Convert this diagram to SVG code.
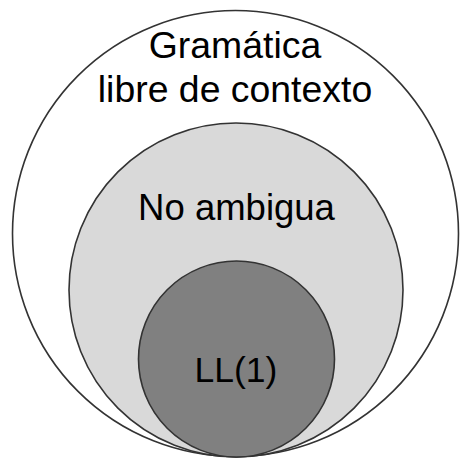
<svg xmlns="http://www.w3.org/2000/svg" width="472" height="472" viewBox="0 0 472 472">
<style>
.c{stroke:#333;stroke-width:1.6}
.t{font-family:"Liberation Sans",Arial,sans-serif;fill:#000;text-anchor:middle}
</style>
<rect width="472" height="472" fill="#fff"/>
<g id="cfg">
<circle class="c" cx="235.5" cy="233.5" r="223" fill="#fff"/>
<text class="t" x="235" y="58" font-size="37.4">Gramática</text>
<text class="t" x="235" y="102" font-size="37.4">libre de contexto</text>
</g>
<g id="noambigua">
<circle class="c" cx="236" cy="290" r="167" fill="#d9d9d9"/>
<text class="t" x="236.5" y="220" font-size="36.5">No ambigua</text>
</g>
<g id="ll1">
<circle class="c" cx="236.5" cy="359" r="98" fill="#808080"/>
<text class="t" x="236" y="382" font-size="35.5">LL(1)</text>
</g>
<g id="connectors"/>
</svg>
